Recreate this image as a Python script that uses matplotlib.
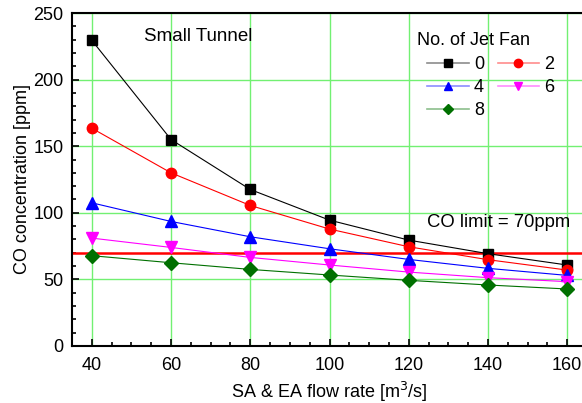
import matplotlib
matplotlib.use("Agg")
import matplotlib.pyplot as plt
import matplotlib.patches as mpatches
from matplotlib.lines import Line2D
from matplotlib.colors import to_rgba
from matplotlib.ticker import MultipleLocator

plt.rcParams['font.family'] = ['Liberation Sans', 'DejaVu Sans']

# flow rate [m3/s]
flow = [40, 60, 80, 100, 120, 140, 160]

# CO concentration [ppm] by number of jet fans
co_0 = [229.5, 155, 117.5, 94.5, 79.5, 69.3, 60.8]
co_2 = [163.5, 130, 105.5, 87.8, 74.5, 64.8, 57]
co_4 = [107.5, 93.5, 82, 73, 65, 58.3, 53]
co_6 = [81, 74, 66.5, 60.8, 55.5, 51.3, 48.3]
co_8 = [67.8, 62.5, 57.5, 53.3, 49.3, 45.8, 42.8]

co_limit = 70

series = [
    ('0', co_0, 'black', 's', 7),
    ('2', co_2, 'red', 'o', 7.5),
    ('4', co_4, 'blue', '^', 8),
    ('6', co_6, 'magenta', 'v', 8),
    ('8', co_8, '#007000', 'D', 7),
]

W, H = 582, 403
fig = plt.figure(figsize=(W / 100, H / 100), dpi=100)
ax = fig.add_axes([72 / W, 1 - 346 / H, 515 / W, 333 / H])

handles = {}
for nome, vals, cor, mk, ms in series:
    ax.plot(flow, vals, color=cor, marker=mk, markersize=ms, linewidth=0.8,
            zorder=3)
    # na legenda a linha fica mais clara e o marcador menor
    handles[nome] = Line2D([], [], color=to_rgba(cor, 0.45), linewidth=1.2,
                           marker=mk, markersize=ms * 0.8,
                           markerfacecolor=cor, markeredgecolor=cor)

ax.axhline(co_limit, color='red', linewidth=1.8, zorder=2)
ax.text(124.5, 92.5, 'CO limit = 70ppm', fontsize=13.3, va='center')
ax.text(53.3, 232, 'Small Tunnel', fontsize=13.5, va='center')

ax.set_xlim(35, 165)
ax.set_ylim(0, 250)
ax.xaxis.set_major_locator(MultipleLocator(20))
ax.xaxis.set_minor_locator(MultipleLocator(5))
ax.yaxis.set_major_locator(MultipleLocator(50))
ax.yaxis.set_minor_locator(MultipleLocator(10))
ax.tick_params(which='both', direction='in', labelsize=13, width=1.2)
ax.tick_params(which='major', length=5)
ax.tick_params(which='minor', length=3)
ax.tick_params(axis='x', pad=8)
ax.tick_params(axis='y', pad=6)
ax.grid(True, which='major', color='#72f072', linewidth=1.0, zorder=1)
for s in ax.spines.values():
    s.set_linewidth(1.5)

ax.set_xlabel('SA & EA flow rate [m$^3$/s]', fontsize=13)
ax.set_ylabel('CO concentration [ppm]', fontsize=13, labelpad=2)

# fundo branco da legenda (esconde a grade)
fundo = mpatches.Rectangle((403 / W, 1 - 123 / H), 165 / W, 98 / H,
                           transform=fig.transFigure, facecolor='white',
                           edgecolor='none', zorder=1.5)
ax.add_patch(fundo)
ax.text(417 / W, 1 - 40.7 / H, 'No. of Jet Fan', transform=fig.transFigure,
        fontsize=13, va='center', ha='left', zorder=4)

# ordem por coluna para ficar 0 2 / 4 6 / 8
ordem = ['0', '4', '8', '2', '6']
leg = ax.legend([handles[k] for k in ordem], ordem,
                ncol=2, loc='upper left',
                bbox_to_anchor=(427 / W, 1 - 56 / H),
                bbox_transform=fig.transFigure,
                fontsize=13, frameon=False, handlelength=2.3,
                columnspacing=0.75, handletextpad=0.3, labelspacing=0.33,
                borderpad=0, borderaxespad=0)

fig.savefig('out.png', dpi=100)
